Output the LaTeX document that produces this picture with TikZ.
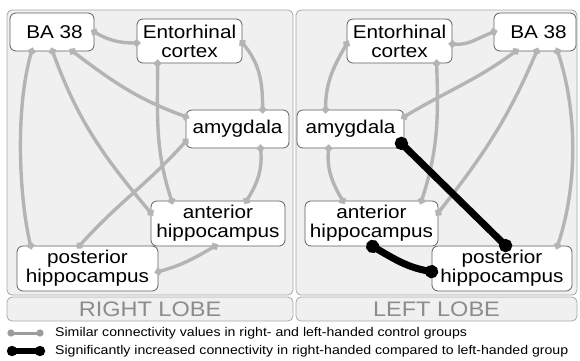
\documentclass[tikz,border=0pt]{standalone}
\usepackage{fontspec}
\setmainfont{Liberation Sans}
\newfontfamily\nf[FakeStretch=1.12]{Liberation Sans}
\usetikzlibrary{arrows.meta,calc}
\definecolor{lgray}{HTML}{B4B4B4}
\definecolor{leggray}{HTML}{9C9C9C}
\definecolor{panelfill}{HTML}{F0F0F0}
\definecolor{paneldraw}{HTML}{A8A8A8}
\definecolor{nodedraw}{HTML}{606060}
\definecolor{lobetext}{HTML}{8C8C8C}
\begin{document}
\begin{tikzpicture}[x=1pt,y=-1pt,
 panel/.style={draw=paneldraw, fill=panelfill, line width=0.8pt, rounded corners=5pt, inner sep=0pt},
 region/.style={draw=nodedraw, fill=white, line width=0.8pt, rounded corners=6pt, inner sep=0pt, align=center, font=\nf\fontsize{18.5}{19}\selectfont},
 lobe/.style={panel, text=lobetext, font=\nf\fontsize{21}{21}\selectfont},
 gl/.style={draw=lgray, line width=3.4pt, {Circle[length=7pt]}-{Circle[length=7pt]}, shorten <=-3.5pt, shorten >=-3.5pt},
 bl/.style={draw=black, line width=7pt, {Circle[length=13pt]}-{Circle[length=13pt]}, shorten <=-6.5pt, shorten >=-6.5pt},
 glleg/.style={draw=leggray, line width=3pt, {Circle[length=7pt]}-{Circle[length=7pt]}, shorten <=-3.5pt, shorten >=-3.5pt},
 blleg/.style={draw=black, line width=5.5pt, {Circle[length=10pt]}-{Circle[length=10pt]}, shorten <=-5pt, shorten >=-5pt},
 legtext/.style={anchor=west, inner sep=0pt, font=\nf\fontsize{12.6}{13}\selectfont}]
\useasboundingbox (0,0) rectangle (580,360);

% panels
\node[panel, minimum width=286pt, minimum height=285pt] (pr) at (150,152.5) {};
\node[panel, minimum width=281pt, minimum height=285pt] (pl) at (436.5,152.5) {};
\node[lobe, minimum width=286pt, minimum height=24pt] (rl) at (150,309) {RIGHT LOBE};
\node[lobe, minimum width=281pt, minimum height=24pt] (ll) at (436.5,309) {LEFT LOBE};

% right lobe nodes (left panel)
\node[region, minimum width=84pt, minimum height=38pt] (baL) at (52,32) {\hspace{5pt}BA 38};
\node[region, minimum width=105pt, minimum height=44pt] (entL) at (189.5,41) {Entorhinal\\cortex};
\node[region, minimum width=103pt, minimum height=38pt] (amyL) at (237.5,129) {amygdala};
\node[region, minimum width=134pt, minimum height=45pt] (antL) at (218,223.5) {anterior\\hippocampus};
\node[region, minimum width=141pt, minimum height=45pt] (postL) at (87.5,268.5) {posterior\\hippocampus};

% left lobe nodes (right panel)
\node[region, minimum width=105pt, minimum height=44pt] (entR) at (399.5,41) {Entorhinal\\cortex};
\node[region, minimum width=82pt, minimum height=38pt] (baR) at (535,32) {\hspace{7pt}BA 38};
\node[region, minimum width=107pt, minimum height=38pt] (amyR) at (350.5,129) {amygdala};
\node[region, minimum width=133pt, minimum height=45pt] (antR) at (371.5,223.5) {anterior\\hippocampus};
\node[region, minimum width=140pt, minimum height=45pt] (postR) at (502,268.5) {posterior\\hippocampus};

% right lobe connectors
\draw[gl] (baL.east) to[out=-30,in=180] ([yshift=-2pt]entL.west);
\draw[gl] ($(baL.south west)+(22,0)$) .. controls +(-17,59) and +(-11,-46) .. ($(postL.north west)+(14,0)$);
\draw[gl] ($(baL.south west)+(43,0)$) to[out=-70,in=130] ($(antL.north west)+(0,12)$);
\draw[gl] ($(baL.south west)+(63,0)$) to[out=-37,in=160] ($(amyL.north west)+(0,7)$);
\draw[gl] ($(entL.south west)+(21,0)$) to[out=-90,in=108] ($(antL.north west)+(21,0)$);
\draw[gl] ([yshift=-2pt]entL.east) to[out=-50,in=90] ($(amyL.north west)+(77,0)$);
\draw[gl] ($(amyL.north west)+(0,32)$) to[out=-132,in=48] ($(postL.north west)+(63,0)$);
\draw[gl] ($(amyL.south west)+(75,0)$) to[out=-85,in=58] ($(antL.north west)+(96,0)$);
\draw[gl] ($(antL.south west)+(64,0)$) to[out=-150,in=15] ($(postL.north east)+(0,26)$);

% left lobe connectors
\draw[gl] ([yshift=-3pt]entR.east) to[out=-5,in=200] (baR.west);
\draw[gl] ([yshift=-3pt]entR.west) to[out=-120,in=90] ($(amyR.north west)+(29,0)$);
\draw[gl] ($(entR.south west)+(90,0)$) to[out=-88,in=72] ($(antR.north west)+(117,0)$);
\draw[gl] ($(baR.south west)+(22,0)$) to[out=-144,in=31] ($(amyR.north east)+(0,7)$);
\draw[gl] ($(baR.south west)+(43,0)$) to[out=-113,in=52] ($(antR.north east)+(0,12)$);
\draw[gl] ($(baR.south west)+(64,0)$) .. controls +(20,60) and +(20,-60) .. ($(postR.north west)+(126,0)$);
\draw[gl] ($(amyR.south west)+(32,0)$) to[out=-95,in=120] ($(antR.north west)+(38,0)$);
\draw[bl] ($(amyR.south east)+(-3,-5)$) -- ($(postR.north west)+(74,0)$);
\draw[bl] ($(antR.south west)+(68,0)$) to[out=-30,in=170] ($(postR.north west)+(0,26)$);

% legend
\coordinate (g1) at (11,333);
\coordinate (g2) at (40,333);
\coordinate (k1) at (12,351);
\coordinate (k2) at (40,351);
\draw[glleg] (g1) -- (g2);
\draw[blleg] (k1) -- (k2);
\node[legtext] (leg1) at (55,333) {Similar connectivity values in right- and left-handed control groups};
\node[legtext] (leg2) at (55,351) {Significantly increased connectivity in right-handed compared to left-handed group};
\end{tikzpicture}
\end{document}
